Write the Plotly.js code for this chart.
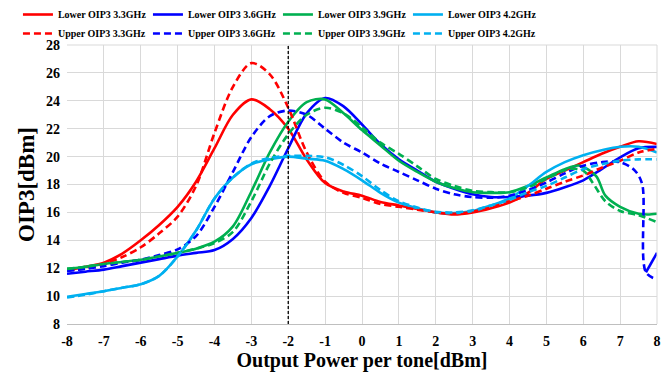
<!DOCTYPE html>
<html>
<head>
<meta charset="utf-8">
<script src="https://cdn.plot.ly/plotly-3.0.1.min.js"></script>
<style>html,body{margin:0;padding:0;background:#fff;}#chart{width:665px;height:375px;}</style>
</head>
<body>
<div id="chart"></div>
<script>
// Output power per tone [dBm]
var xPower = [-8,-7.5,-7,-6.5,-6,-5.5,-5,-4.5,-4,-3.5,-3,-2.5,-2,-1.5,-1,-0.5,0,0.5,1,1.5,2,2.5,3,3.5,4,4.5,5,5.5,6,6.5,7,7.5,8];

var lower33 = [11.85,12.1,12.4,13.05,14.0,15.1,16.4,18.2,20.6,23.0,24.1,23.4,22.0,19.8,18.1,17.5,17.2,16.75,16.5,16.25,16.0,15.85,16.0,16.3,16.7,17.4,18.4,19.0,19.6,20.2,20.7,21.1,20.9];
var upper33 = [11.85,12.0,12.3,12.8,13.5,14.5,15.7,17.9,21.7,25.0,26.7,25.9,23.5,20.3,18.2,17.4,17.05,16.6,16.4,16.2,16.0,15.9,16.05,16.35,16.8,17.2,17.7,18.2,18.65,19.2,19.7,20.3,20.55];

var xLower36 = [-8,-7.5,-7,-6.5,-6,-5.5,-5,-4.5,-4,-3.5,-3,-2.5,-2,-1.5,-1,-0.5,0,0.5,1,1.5,2,2.5,3,3.5,4,4.5,5,5.5,6,6.5,7,7.5,8,null,7.7,8];
var lower36 = [11.6,11.75,11.9,12.15,12.4,12.65,12.9,13.1,13.3,14.1,15.6,17.9,20.6,23.1,24.2,23.6,22.3,20.9,19.8,19.0,18.2,17.7,17.3,17.1,17.1,17.2,17.4,17.8,18.3,19.1,19.95,20.6,20.7,null,11.7,13.1];
var xUpper36 = [-8,-7.5,-7,-6.5,-6,-5.5,-5,-4.5,-4,-3.5,-3,-2.5,-2,-1.5,-1,-0.5,0,0.5,1,1.5,2,2.5,3,3.5,4,4.5,5,5.5,6,6.5,7,7.4,7.6,7.7,8];
var upper36 = [11.8,11.95,12.15,12.4,12.6,12.95,13.35,14.3,16.4,18.9,21.4,22.9,23.3,23.0,22.0,21.0,20.3,19.5,18.9,18.3,17.7,17.3,17.1,17.05,17.2,17.6,18.15,18.8,19.35,19.6,19.6,19.0,18.0,11.7,11.2];

var xLower39 = [-8,-7.5,-7,-6.5,-6,-5.5,-5,-4.5,-4,-3.5,-3,-2.5,-2,-1.5,-1,-0.5,0,0.5,1,1.5,2,2.5,3,3.5,4,4.5,5,5.5,5.9,6.35,6.6,7,7.5,7.75,8];
var lower39 = [11.95,12.1,12.3,12.45,12.6,12.85,13.1,13.4,13.9,15.0,17.5,20.3,22.5,23.9,24.1,23.1,21.9,20.8,19.7,18.9,18.2,17.75,17.45,17.4,17.45,17.9,18.5,19.1,19.35,18.6,17.2,16.4,15.9,15.85,15.9];
var xUpper39 = [-8,-7.5,-7,-6.5,-6,-5.5,-5,-4.5,-4,-3.5,-3,-2.5,-2,-1.5,-1,-0.5,0,0.5,1,1.5,2,2.5,3,3.5,4,4.5,5,5.6,6,6.25,6.6,7,7.5,8];
var upper39 = [11.95,12.1,12.3,12.45,12.6,12.85,13.1,13.4,13.8,14.6,16.8,19.5,21.6,23.0,23.5,23.1,22.1,21.0,20.2,19.3,18.4,17.9,17.55,17.45,17.45,17.8,18.4,19.1,19.0,18.15,16.8,16.1,15.8,15.3];

var lower42 = [9.95,10.15,10.35,10.6,10.85,11.45,12.85,14.7,17.0,18.5,19.45,19.8,20.0,19.85,19.7,19.1,18.3,17.4,16.7,16.3,16.0,15.95,16.1,16.5,17.0,17.9,18.9,19.6,20.1,20.45,20.7,20.7,20.3];
var upper42 = [9.9,10.1,10.35,10.6,10.85,11.45,12.85,14.7,17.0,18.5,19.5,19.9,20.05,20.05,19.95,19.4,18.6,17.6,16.8,16.35,16.05,16.0,16.15,16.5,16.9,17.45,17.9,18.5,19.1,19.45,19.7,19.8,19.8];

var seriesNames = ['Lower OIP3 3.3GHz','Lower OIP3 3.6GHz','Lower OIP3 3.9GHz','Lower OIP3 4.2GHz',
                   'Upper OIP3 3.3GHz','Upper OIP3 3.6GHz','Upper OIP3 3.9GHz','Upper OIP3 4.2GHz'];
var refLineX = -2;
var xTicks = [-8,-7,-6,-5,-4,-3,-2,-1,0,1,2,3,4,5,6,7,8];
var yTicks = [8,10,12,14,16,18,20,22,24,26,28];

var colors = ['#ff0000','#0000ff','#00b050','#00b0f0'];
var DASH = '7px,4px';

function tr(x, y, name, color, dash) {
  return {x: x, y: y, name: name, type: 'scatter', mode: 'lines',
          connectgaps: false,
          line: {color: color, width: 2.6, shape: 'spline', smoothing: 0.9, dash: dash}};
}

var data = [
  tr(xPower, lower33, seriesNames[0], colors[0], 'solid'),
  tr(xLower36, lower36, seriesNames[1], colors[1], 'solid'),
  tr(xLower39, lower39, seriesNames[2], colors[2], 'solid'),
  tr(xPower, lower42, seriesNames[3], colors[3], 'solid'),
  tr(xPower, upper33, seriesNames[4], colors[0], DASH),
  tr(xUpper36, upper36, seriesNames[5], colors[1], DASH),
  tr(xUpper39, upper39, seriesNames[6], colors[2], DASH),
  tr(xPower, upper42, seriesNames[7], colors[3], DASH)
];

var serif = 'Liberation Serif, Times New Roman, serif';
var layout = {
  width: 665, height: 375,
  margin: {l: 67, r: 8, t: 45, b: 51, autoexpand: false},
  paper_bgcolor: '#fff', plot_bgcolor: '#fff',
  font: {family: serif, color: '#000', weight: 'bold'},
  showlegend: true,
  legend: {
    orientation: 'h', xref: 'container', yref: 'container',
    x: 0.027, y: 1.0, xanchor: 'left', yanchor: 'top',
    entrywidth: 85, entrywidthmode: 'pixels',
    itemwidth: 30,
    font: {family: serif, size: 10, weight: 'bold', color: '#000'},
    bgcolor: 'rgba(0,0,0,0)', tracegroupgap: 0
  },
  xaxis: {
    range: [-8, 8], tickvals: xTicks, ticktext: xTicks.map(String),
    showgrid: true, gridcolor: '#d9d9d9', gridwidth: 1,
    zeroline: false, showline: true, linecolor: '#bfbfbf', linewidth: 1.3,
    ticks: '', ticklabelstandoff: 4,
    tickfont: {family: serif, size: 14, weight: 'bold'},
    title: {text: 'Output Power per tone[dBm]', standoff: 2,
            font: {family: serif, size: 20, weight: 'bold'}}
  },
  yaxis: {
    range: [8, 28], tickvals: yTicks, ticktext: yTicks.map(String),
    showgrid: true, gridcolor: '#d9d9d9', gridwidth: 1,
    zeroline: false, showline: false,
    ticks: '', ticklabelstandoff: 6,
    tickfont: {family: serif, size: 14, weight: 'bold'},
    title: {text: 'OIP3[dBm]', standoff: 4,
            font: {family: serif, size: 23, weight: 'bold'}}
  },
  shapes: [{type: 'line', xref: 'x', yref: 'paper', x0: refLineX, x1: refLineX, y0: 0, y1: 1,
            line: {color: '#000', width: 1.3, dash: '3px,2px'}},
           {type: 'line', xref: 'paper', yref: 'paper', x0: 0, x1: 1, y0: 1, y1: 1,
            line: {color: '#d9d9d9', width: 1}},
           {type: 'line', xref: 'paper', yref: 'paper', x0: 1, x1: 1, y0: 0, y1: 1,
            line: {color: '#d9d9d9', width: 1}}]
};

Plotly.newPlot('chart', data, layout, {displayModeBar: false, staticPlot: true});
</script>
</body>
</html>
